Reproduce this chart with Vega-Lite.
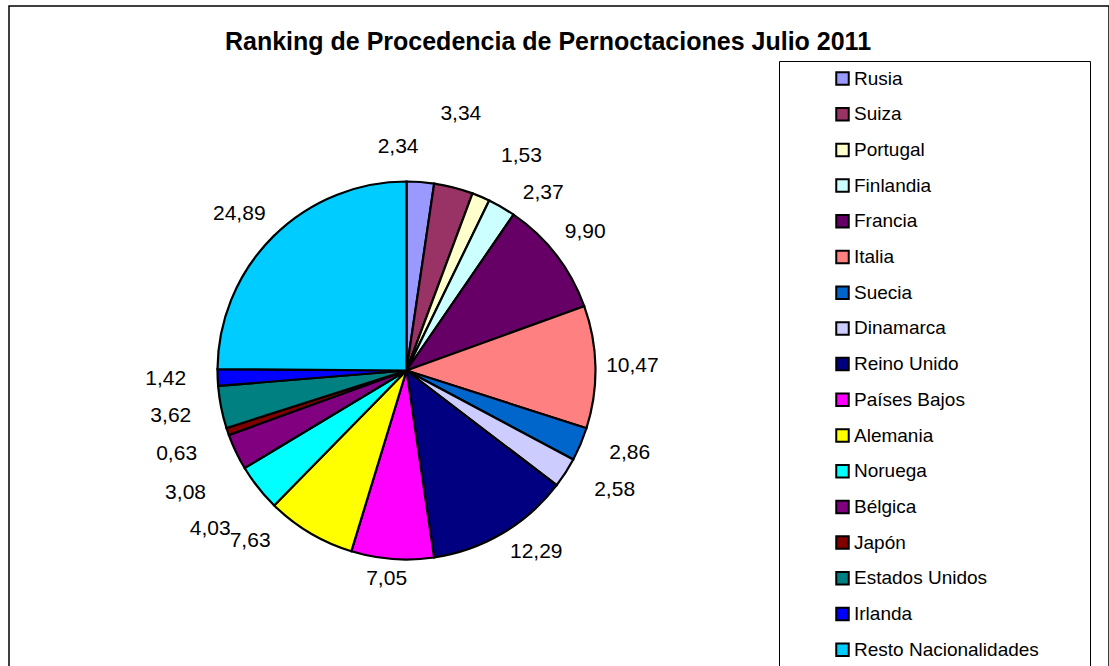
{
  "$schema": "https://vega.github.io/schema/vega-lite/v6.json",
  "width": 1100,
  "height": 662,
  "autosize": {"type": "none"},
  "padding": {"left": 9, "top": 6, "right": 0, "bottom": -2},
  "background": "white",
  "view": {"stroke": "black", "strokeWidth": 1.5, "fill": "white"},
  "config": {
    "font": "Liberation Sans",
    "locale": {"number": {"decimal": ",", "thousands": ".", "grouping": [3], "currency": ["", " €"]}},
    "text": {"font": "Liberation Sans", "fontSize": 21, "align": "center", "baseline": "middle", "radius": 226, "color": "black"}
  },
  "title": {
    "text": "Ranking de Procedencia de Pernoctaciones Julio 2011",
    "font": "Liberation Sans",
    "fontSize": 25,
    "fontWeight": "bold",
    "color": "black",
    "anchor": "middle",
    "dx": -11,
    "baseline": "alphabetic",
    "offset": -69
  },
  "data": {
    "values": [
      {"idx": 1, "pais": "Rusia", "valor": 2.34},
      {"idx": 2, "pais": "Suiza", "valor": 3.34},
      {"idx": 3, "pais": "Portugal", "valor": 1.53},
      {"idx": 4, "pais": "Finlandia", "valor": 2.37},
      {"idx": 5, "pais": "Francia", "valor": 9.90},
      {"idx": 6, "pais": "Italia", "valor": 10.47},
      {"idx": 7, "pais": "Suecia", "valor": 2.86},
      {"idx": 8, "pais": "Dinamarca", "valor": 2.58},
      {"idx": 9, "pais": "Reino Unido", "valor": 12.29},
      {"idx": 10, "pais": "Países Bajos", "valor": 7.05},
      {"idx": 11, "pais": "Alemania", "valor": 7.63},
      {"idx": 12, "pais": "Noruega", "valor": 4.03},
      {"idx": 13, "pais": "Bélgica", "valor": 3.08},
      {"idx": 14, "pais": "Japón", "valor": 0.63},
      {"idx": 15, "pais": "Estados Unidos", "valor": 3.62},
      {"idx": 16, "pais": "Irlanda", "valor": 1.42},
      {"idx": 17, "pais": "Resto Nacionalidades", "valor": 24.89}
    ]
  },
  "encoding": {
    "theta": {"field": "valor", "type": "quantitative", "stack": true},
    "order": {"field": "idx", "type": "quantitative"},
    "color": {
      "field": "pais",
      "type": "nominal",
      "scale": {
        "domain": ["Rusia", "Suiza", "Portugal", "Finlandia", "Francia", "Italia", "Suecia", "Dinamarca", "Reino Unido", "Países Bajos", "Alemania", "Noruega", "Bélgica", "Japón", "Estados Unidos", "Irlanda", "Resto Nacionalidades"],
        "range": ["#9999FF", "#993366", "#FFFFCC", "#CCFFFF", "#660066", "#FF8080", "#0066CC", "#CCCCFF", "#000080", "#FF00FF", "#FFFF00", "#00FFFF", "#800080", "#800000", "#008080", "#0000FF", "#00CCFF"]
      },
      "legend": {
        "title": "\u00a0",
        "titleOrient": "right",
        "titlePadding": 43,
        "titleFontSize": 19,
        "orient": "none",
        "legendX": 770,
        "legendY": 55,
        "padding": 8,
        "strokeColor": "black",
        "fillColor": "white",
        "symbolType": "square",
        "symbolSize": 156,
        "symbolStrokeColor": "black",
        "symbolStrokeWidth": 2,
        "symbolOpacity": 1,
        "symbolOffset": 46,
        "labelFont": "Liberation Sans",
        "labelFontSize": 19,
        "labelColor": "black",
        "labelOffset": 2,
        "labelLimit": 400,
        "rowPadding": 14.7
      }
    }
  },
  "layer": [
    {
      "mark": {"type": "arc", "x": 397.5, "y": 364.5, "outerRadius": 189, "stroke": "black", "strokeWidth": 2.2, "opacity": 1}
    },
    {
      "mark": {"type": "text", "x": 397.5, "y": 364.5},
      "encoding": {"text": {"condition": {"test": "datum.idx == 5 || datum.idx == 6", "field": "valor", "type": "quantitative", "format": ".2f"}, "value": ""}, "color": {"value": "black"}}
    },
    {
      "mark": {"type": "text", "x": 397.5, "y": 364.5, "dx": -25, "dy": 2},
      "encoding": {"text": {"condition": {"test": "datum.idx == 1", "field": "valor", "type": "quantitative", "format": ".2f"}, "value": ""}, "color": {"value": "black"}}
    },
    {
      "mark": {"type": "text", "x": 397.5, "y": 364.5, "dx": -2, "dy": -38},
      "encoding": {"text": {"condition": {"test": "datum.idx == 2", "field": "valor", "type": "quantitative", "format": ".2f"}, "value": ""}, "color": {"value": "black"}}
    },
    {
      "mark": {"type": "text", "x": 397.5, "y": 364.5, "dx": 26, "dy": -7},
      "encoding": {"text": {"condition": {"test": "datum.idx == 3", "field": "valor", "type": "quantitative", "format": ".2f"}, "value": ""}, "color": {"value": "black"}}
    },
    {
      "mark": {"type": "text", "x": 397.5, "y": 364.5, "dx": 23, "dy": 18},
      "encoding": {"text": {"condition": {"test": "datum.idx == 4", "field": "valor", "type": "quantitative", "format": ".2f"}, "value": ""}, "color": {"value": "black"}}
    },
    {
      "mark": {"type": "text", "x": 397.5, "y": 364.5, "dx": 15, "dy": -6},
      "encoding": {"text": {"condition": {"test": "datum.idx == 7", "field": "valor", "type": "quantitative", "format": ".2f"}, "value": ""}, "color": {"value": "black"}}
    },
    {
      "mark": {"type": "text", "x": 397.5, "y": 364.5, "dx": 18, "dy": -3},
      "encoding": {"text": {"condition": {"test": "datum.idx == 8", "field": "valor", "type": "quantitative", "format": ".2f"}, "value": ""}, "color": {"value": "black"}}
    },
    {
      "mark": {"type": "text", "x": 397.5, "y": 364.5, "dx": 15, "dy": -13},
      "encoding": {"text": {"condition": {"test": "datum.idx == 9", "field": "valor", "type": "quantitative", "format": ".2f"}, "value": ""}, "color": {"value": "black"}}
    },
    {
      "mark": {"type": "text", "x": 397.5, "y": 364.5, "dx": -3, "dy": -17},
      "encoding": {"text": {"condition": {"test": "datum.idx == 10", "field": "valor", "type": "quantitative", "format": ".2f"}, "value": ""}, "color": {"value": "black"}}
    },
    {
      "mark": {"type": "text", "x": 397.5, "y": 364.5, "dx": -41, "dy": -24},
      "encoding": {"text": {"condition": {"test": "datum.idx == 11", "field": "valor", "type": "quantitative", "format": ".2f"}, "value": ""}, "color": {"value": "black"}}
    },
    {
      "mark": {"type": "text", "x": 397.5, "y": 364.5, "dx": -19, "dy": 18},
      "encoding": {"text": {"condition": {"test": "datum.idx == 12", "field": "valor", "type": "quantitative", "format": ".2f"}, "value": ""}, "color": {"value": "black"}}
    },
    {
      "mark": {"type": "text", "x": 397.5, "y": 364.5, "dx": -17, "dy": 25},
      "encoding": {"text": {"condition": {"test": "datum.idx == 13", "field": "valor", "type": "quantitative", "format": ".2f"}, "value": ""}, "color": {"value": "black"}}
    },
    {
      "mark": {"type": "text", "x": 397.5, "y": 364.5, "dx": -16, "dy": 10},
      "encoding": {"text": {"condition": {"test": "datum.idx == 14", "field": "valor", "type": "quantitative", "format": ".2f"}, "value": ""}, "color": {"value": "black"}}
    },
    {
      "mark": {"type": "text", "x": 397.5, "y": 364.5, "dx": -14, "dy": 2},
      "encoding": {"text": {"condition": {"test": "datum.idx == 15", "field": "valor", "type": "quantitative", "format": ".2f"}, "value": ""}, "color": {"value": "black"}}
    },
    {
      "mark": {"type": "text", "x": 397.5, "y": 364.5, "dx": -15, "dy": 0},
      "encoding": {"text": {"condition": {"test": "datum.idx == 16", "field": "valor", "type": "quantitative", "format": ".2f"}, "value": ""}, "color": {"value": "black"}}
    },
    {
      "mark": {"type": "text", "x": 397.5, "y": 364.5, "dx": -8, "dy": 4},
      "encoding": {"text": {"condition": {"test": "datum.idx == 17", "field": "valor", "type": "quantitative", "format": ".2f"}, "value": ""}, "color": {"value": "black"}}
    }
  ]
}
